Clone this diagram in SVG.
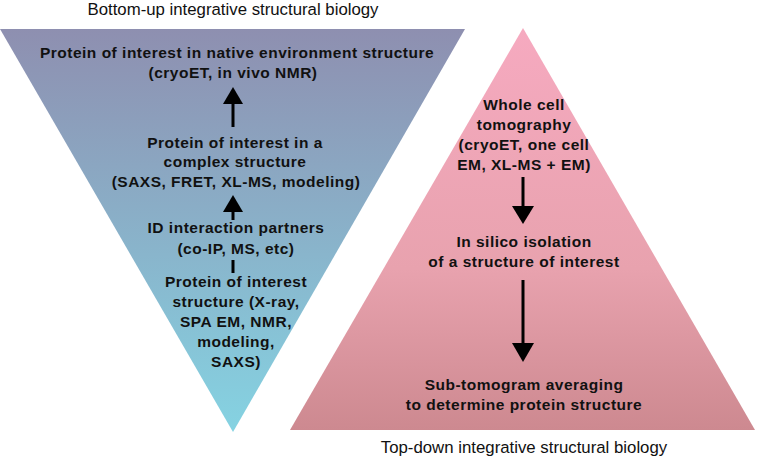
<svg xmlns="http://www.w3.org/2000/svg" width="757" height="458" viewBox="0 0 757 458">
<style>
.t{font-family:"Liberation Sans",Arial,sans-serif;font-size:16.8px;fill:#111;text-anchor:middle}
.b{font-family:"Liberation Sans",Arial,sans-serif;font-size:15.5px;font-weight:bold;letter-spacing:0.5px;fill:#111;text-anchor:middle}
.ln{stroke:#000;stroke-width:3;fill:none}
.hd{fill:#000}
</style>
<defs>
<linearGradient id="gBlue" x1="0" y1="0" x2="0" y2="1">
<stop offset="0" stop-color="#8E8FB0"/>
<stop offset="1" stop-color="#85D3E2"/>
</linearGradient>
<linearGradient id="gPink" x1="0" y1="0" x2="0" y2="1">
<stop offset="0" stop-color="#F6AAC0"/>
<stop offset="0.6" stop-color="#E8A2AE"/>
<stop offset="1" stop-color="#CD8990"/>
</linearGradient>
</defs>
<g id="bottomUp">
<polygon points="0,29 465,29 233,432" fill="url(#gBlue)"/>
<text class="t" x="233" y="15">Bottom-up integrative structural biology</text>
</g>
<g id="topDown">
<polygon points="523,28 755,430 290,430" fill="url(#gPink)"/>
<text class="t" x="524" y="453">Top-down integrative structural biology</text>
</g>
<g id="n1">
<text class="b" x="237" y="58">Protein of interest in native environment structure</text>
<text class="b" x="233" y="78">(cryoET, in vivo NMR)</text>
</g>
<g id="n2">
<text class="b" x="235" y="148">Protein of interest in a</text>
<text class="b" x="235" y="167">complex structure</text>
<text class="b" x="236" y="187">(SAXS, FRET, XL-MS, modeling)</text>
</g>
<g id="n3">
<text class="b" x="236" y="233">ID interaction partners</text>
<text class="b" x="236" y="254">(co-IP, MS, etc)</text>
</g>
<g id="n4">
<text class="b" x="236" y="287">Protein of interest</text>
<text class="b" x="236" y="307">structure (X-ray,</text>
<text class="b" x="236" y="327">SPA EM, NMR,</text>
<text class="b" x="236" y="347">modeling,</text>
<text class="b" x="236" y="367">SAXS)</text>
</g>
<g id="n5">
<text class="b" x="524" y="110">Whole cell</text>
<text class="b" x="524" y="130">tomography</text>
<text class="b" x="524" y="150">(cryoET, one cell</text>
<text class="b" x="524" y="170">EM, XL-MS + EM)</text>
</g>
<g id="n6">
<text class="b" x="524" y="247">In silico isolation</text>
<text class="b" x="524" y="267">of a structure of interest</text>
</g>
<g id="n7">
<text class="b" x="524" y="390">Sub-tomogram averaging</text>
<text class="b" x="524" y="410">to determine protein structure</text>
</g>
<g id="connectors">
<line class="ln" x1="233" y1="127" x2="233" y2="100"/>
<polygon class="hd" points="233,87 243,104 223,104"/>
<line class="ln" x1="233" y1="220" x2="233" y2="208"/>
<polygon class="hd" points="233,195 243,212 223,212"/>
<line class="ln" x1="233" y1="260" x2="233" y2="273"/>
<line class="ln" x1="523" y1="177" x2="523" y2="210"/>
<polygon class="hd" points="523,224 534,206 512,206"/>
<line class="ln" x1="523" y1="280" x2="523" y2="346"/>
<polygon class="hd" points="523,362 534,343 512,343"/>
</g>
</svg>
